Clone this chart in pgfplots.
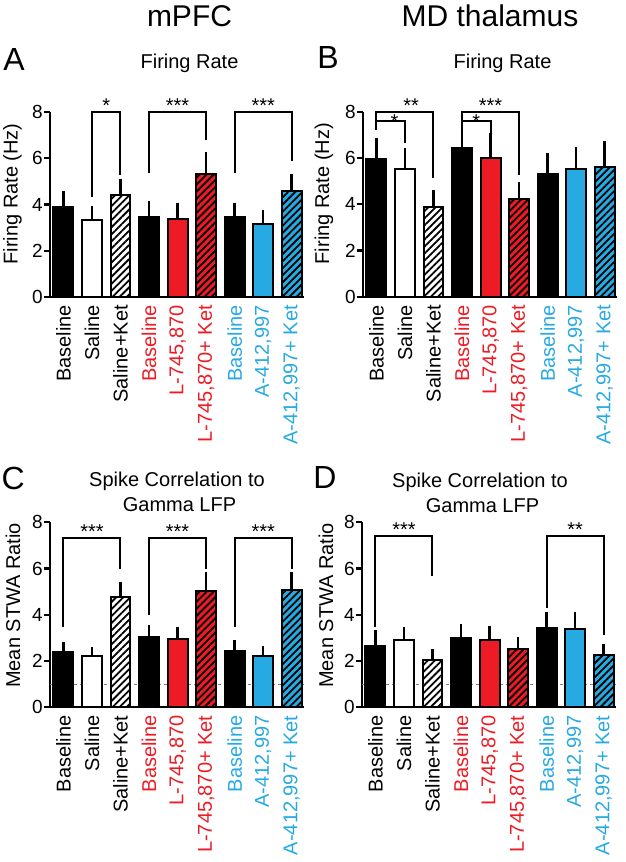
\documentclass[border=0pt]{standalone}
\usepackage{pgfplots}
\pgfplotsset{compat=1.18}
\usetikzlibrary{patterns.meta}
\usepackage{fontspec}
\setmainfont{Liberation Sans}
\definecolor{cred}{RGB}{237,28,36}
\definecolor{cblue}{RGB}{39,170,225}
\newcommand{\fs}[1]{\fontsize{#1}{#1}\selectfont}

\pgfplotsset{
  panel/.style={
    scale only axis, width=254pt, height=185pt, anchor=south west,
    xmin=-0.47, xmax=8.43, ymin=0, ymax=8,
    axis x line*=bottom, axis y line*=left,
    axis line style={line width=2.2pt, black},
    xtick={0,...,8}, xtick style={draw=none},
    ytick={0,2,4,6,8}, tick align=outside, major tick length=6pt,
    ytick style={line width=2.2pt, black},
    yticklabel style={font=\fs{19}, inner sep=1pt},
    xticklabel style={font=\fs{20}, rotate=90, anchor=east, inner sep=2pt},
    /pgf/number format/assume math mode=true,
    ylabel style={font=\fs{20}, anchor=center},
    clip=false,
    xticklabels={Baseline, Saline, Saline+Ket,
      \textcolor{cred}{Baseline}, {\textcolor{cred}{L-745,870}}, {\textcolor{cred}{L-745,870+ Ket}},
      \textcolor{cblue}{Baseline}, {\textcolor{cblue}{A-412,997}}, {\textcolor{cblue}{A-412,997+ Ket}}},
  },
  bbar/.style={ybar, bar width=0.7, bar shift=0pt, draw=black, line width=2pt, fill=#1,
    error bars/y dir=plus, error bars/y explicit,
    error bars/error bar style={line width=2.6pt, black},
    error bars/error mark options={line width=2.6pt, black, mark size=4.7pt}},
  hbar/.style={bbar=#1, postaction={pattern color=black,
    pattern={Lines[angle=45,distance=5pt,line width=1.8pt]}}},
  brk/.style={black, line width=2pt, no markers},
}
\tikzset{sig/.style={font=\fs{20}, anchor=base}}

\begin{document}
\begin{tikzpicture}[x=1pt,y=1pt]
\useasboundingbox (0,0) rectangle (625,-862);

% column heads, panel letters, titles
\node[font=\fs{30}, anchor=base] at (189.5,-27) {mPFC};
\node[font=\fs{30}, anchor=base] at (490,-27) {MD thalamus};
\node[font=\fs{32}, anchor=base] at (14,-70) {A};
\node[font=\fs{32}, anchor=base] at (328,-68.3) {B};
\node[font=\fs{32}, anchor=base] at (13.3,-489) {C};
\node[font=\fs{32}, anchor=base] at (325,-488) {D};
\node[font=\fs{20}, anchor=base] at (189.5,-68.3) {Firing Rate};
\node[font=\fs{20}, anchor=base] at (502.5,-68.3) {Firing Rate};
\node[font=\fs{20}, anchor=base] at (177,-486.7) {Spike Correlation to};
\node[font=\fs{20}, anchor=base] at (179.5,-511.7) {Gamma LFP};
\node[font=\fs{20}, anchor=base] at (480,-487) {Spike Correlation to};
\node[font=\fs{20}, anchor=base] at (482.5,-512) {Gamma LFP};

% A: mPFC firing rate
\begin{axis}[panel, at={(50pt,-297pt)}, ylabel={Firing Rate (Hz)},
  ylabel style={at={(axis description cs:-0.148,0.557)}}]
\addplot[bbar=black] coordinates {(0,3.90) +- (0,0.48) (3,3.45) +- (0,0.50) (6,3.45) +- (0,0.43)};
\addplot[bbar=white] coordinates {(1,3.33) +- (0,0.41)};
\addplot[hbar=white] coordinates {(2,4.41) +- (0,0.51)};
\addplot[bbar=cred] coordinates {(4,3.36) +- (0,0.52)};
\addplot[hbar=cred] coordinates {(5,5.32) +- (0,0.75)};
\addplot[bbar=cblue] coordinates {(7,3.16) +- (0,0.39)};
\addplot[hbar=cblue] coordinates {(8,4.59) +- (0,0.51)};
\addplot[brk] coordinates {(1,4.34) (1,8) (2,8) (2,5.28)};
\addplot[brk] coordinates {(3,5.35) (3,8) (5,8) (5,6.80)};
\addplot[brk] coordinates {(6,5.35) (6,8) (8,8) (8,5.86)};
\node[sig] at (axis cs:1.5,8) {*};
\node[sig] at (axis cs:4,8) {***};
\node[sig] at (axis cs:7,8) {***};
\end{axis}

% B: MD thalamus firing rate
\begin{axis}[panel, at={(363pt,-296.7pt)}, ylabel={Firing Rate (Hz)},
  ylabel style={at={(axis description cs:-0.154,0.557)}}]
\addplot[bbar=black] coordinates {(0,5.96) +- (0,0.71) (3,6.42) +- (0,0.90) (6,5.31) +- (0,0.69)};
\addplot[bbar=white] coordinates {(1,5.51) +- (0,0.70)};
\addplot[hbar=white] coordinates {(2,3.90) +- (0,0.50)};
\addplot[bbar=cred] coordinates {(4,5.99) +- (0,0.87)};
\addplot[hbar=cred] coordinates {(5,4.23) +- (0,0.51)};
\addplot[bbar=cblue] coordinates {(7,5.53) +- (0,0.75)};
\addplot[hbar=cblue] coordinates {(8,5.61) +- (0,0.91)};
\addplot[brk] coordinates {(0,7.20) (0,8) (2,8) (2,5.12)};
\addplot[brk] coordinates {(0,7.60) (1,7.60) (1,6.64)};
\addplot[brk] coordinates {(3,7.50) (3,8) (5,8) (5,5.27)};
\addplot[brk] coordinates {(3,7.60) (4,7.60) (4,7.00)};
\node[sig] at (axis cs:1.22,7.95) {**};
\node[sig] at (axis cs:0.63,7.27) {*};
\node[sig] at (axis cs:4,7.95) {***};
\node[sig] at (axis cs:3.5,7.27) {*};
\end{axis}

% C: mPFC spike correlation
\begin{axis}[panel, at={(50pt,-707.3pt)}, ylabel={Mean STWA Ratio},
  ylabel style={at={(axis description cs:-0.146,0.551)}}]
\addplot[gray, dashed, line width=0.5pt, no markers] coordinates {(-0.47,1) (8.43,1)};
\addplot[bbar=black] coordinates {(0,2.41) +- (0,0.19) (3,3.02) +- (0,0.33) (6,2.44) +- (0,0.26)};
\addplot[bbar=white] coordinates {(1,2.22) +- (0,0.19)};
\addplot[hbar=white] coordinates {(2,4.75) +- (0,0.48)};
\addplot[bbar=cred] coordinates {(4,2.96) +- (0,0.29)};
\addplot[hbar=cred] coordinates {(5,5.04) +- (0,0.59)};
\addplot[bbar=cblue] coordinates {(7,2.24) +- (0,0.20)};
\addplot[hbar=cblue] coordinates {(8,5.08) +- (0,0.55)};
\addplot[brk] coordinates {(0,3.49) (0,7.32) (2,7.32) (2,5.99)};
\addplot[brk] coordinates {(3,4.00) (3,7.32) (5,7.32) (5,6.00)};
\addplot[brk] coordinates {(6,3.49) (6,7.32) (8,7.32) (8,6.00)};
\node[sig] at (axis cs:1,7.32) {***};
\node[sig] at (axis cs:4,7.32) {***};
\node[sig] at (axis cs:7,7.32) {***};
\end{axis}

% D: MD thalamus spike correlation
\begin{axis}[panel, at={(362pt,-707.3pt)}, ylabel={Mean STWA Ratio},
  ylabel style={at={(axis description cs:-0.142,0.551)}}]
\addplot[gray, dashed, line width=0.5pt, no markers] coordinates {(-0.47,1) (8.43,1)};
\addplot[bbar=black] coordinates {(0,2.63) +- (0,0.50) (3,2.99) +- (0,0.43) (6,3.44) +- (0,0.48)};
\addplot[bbar=white] coordinates {(1,2.92) +- (0,0.33)};
\addplot[hbar=white] coordinates {(2,2.05) +- (0,0.26)};
\addplot[bbar=cred] coordinates {(4,2.89) +- (0,0.43)};
\addplot[hbar=cred] coordinates {(5,2.52) +- (0,0.32)};
\addplot[bbar=cblue] coordinates {(7,3.38) +- (0,0.54)};
\addplot[hbar=cblue] coordinates {(8,2.26) +- (0,0.26)};
\addplot[brk] coordinates {(0,3.49) (0,7.39) (2,7.39) (2,5.69)};
\addplot[brk] coordinates {(6,4.29) (6,7.39) (8,7.39) (8,3.13)};
\node[sig] at (axis cs:1,7.39) {***};
\node[sig] at (axis cs:7,7.39) {**};
\end{axis}
\end{tikzpicture}
\end{document}
